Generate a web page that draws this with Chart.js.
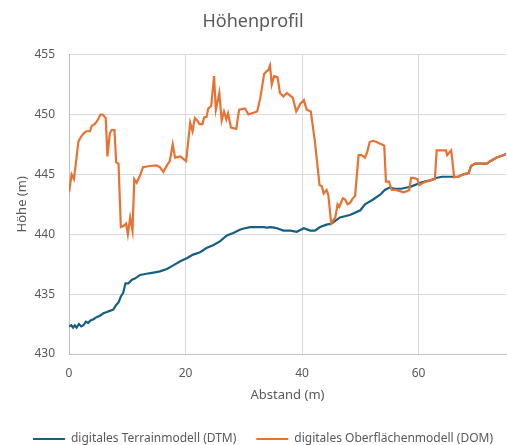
<!DOCTYPE html>
<html>
<head>
<meta charset="utf-8">
<script src="https://cdn.jsdelivr.net/npm/chart.js@4.4.0/dist/chart.umd.min.js"></script>
<style>
  html, body { margin: 0; padding: 0; background: #fff; }
  #wrap { width: 507px; height: 445px; position: relative; }
</style>
</head>
<body>
<div id="wrap"><canvas id="profil"></canvas></div>
<script>
// --- Daten: Abstand (m) und Höhe (m) ---
const dtmAbstand = [0, 0.4, 0.7, 1.0, 1.3, 1.7, 2.1, 2.5, 2.9, 3.3, 3.7, 4.2, 4.8, 5.3, 5.9, 6.5, 7.0, 7.6, 8.1, 8.5,
  8.9, 9.3, 9.7, 10.2, 10.8, 11.3, 12.2, 13.3, 14.5, 15.6, 16.8, 17.9, 19.1, 20.2, 21.3, 22.5, 23.6, 24.8, 25.9, 27.1,
  28.2, 29.4, 30.2, 31.1, 32.5, 33.4, 34.0, 34.6, 35.2, 35.7, 36.8, 38.0, 39.1, 40.3, 41.4, 42.2, 43.1, 44.2, 45.1, 46.5,
  48.2, 50.0, 50.8, 52.2, 53.4, 54.2, 55.0, 56.0, 57.0, 58.0, 58.8, 60.3, 61.0, 62.0, 63.0, 64.0, 65.0, 66.0, 66.8, 67.7,
  68.6, 69.0, 69.7, 70.6, 71.7, 72.3, 73.4, 74.5, 75.0];
const dtmHoehe = [432.3, 432.4, 432.2, 432.4, 432.2, 432.5, 432.3, 432.4, 432.7, 432.6, 432.8, 432.9, 433.1, 433.2, 433.4, 433.5, 433.6, 433.7, 434.1, 434.3,
  434.8, 435.1, 435.9, 435.9, 436.2, 436.3, 436.6, 436.7, 436.8, 436.9, 437.1, 437.4, 437.75, 438.0, 438.3, 438.5, 438.85, 439.1, 439.4, 439.9,
  440.1, 440.4, 440.5, 440.6, 440.6, 440.6, 440.55, 440.6, 440.55, 440.5, 440.3, 440.3, 440.2, 440.5, 440.3, 440.3, 440.6, 440.8, 440.9, 441.4,
  441.6, 442.0, 442.5, 442.9, 443.3, 443.7, 443.9, 443.8, 443.8, 443.9, 444.0, 444.3, 444.4, 444.5, 444.7, 444.8, 444.8, 444.8, 444.8, 445.0,
  445.1, 445.7, 445.9, 445.9, 445.9, 446.1, 446.4, 446.6, 446.7];

const domAbstand = [0, 0.45, 0.85, 1.6, 2.0, 2.5, 3.0, 3.6, 3.9, 4.4, 4.75, 5.0, 5.4, 5.8, 6.3, 6.6, 7.0, 7.3, 7.8, 8.1,
  8.5, 8.9, 9.4, 9.8, 10.1, 10.5, 10.9, 11.2, 11.6, 12.1, 12.7, 13.9, 15.0, 15.6, 16.2, 16.8, 17.3, 17.8, 18.2, 19.1,
  20.1, 20.8, 21.2, 21.6, 22.0, 22.4, 22.9, 23.2, 23.6, 23.9, 24.4, 24.9, 25.2, 25.8, 26.2, 26.6, 27.0, 27.3, 27.8, 28.7,
  29.2, 30.2, 30.8, 31.4, 32.3, 32.8, 33.5, 33.9, 34.2, 34.5, 34.8, 35.2, 35.8, 36.2, 36.8, 37.4, 37.9, 38.4, 39.0, 39.7,
  40.3, 40.8, 41.5, 42.2, 43.0, 43.4, 43.7, 44.2, 44.5, 45.0, 45.7, 46.1, 46.4, 47.0, 47.4, 47.8, 48.2, 48.7, 49.1, 49.7,
  50.2, 50.8, 51.2, 51.6, 52.2, 52.8, 53.7, 54.1, 54.4, 54.9, 55.4, 56.0, 56.8, 57.4, 58.0, 58.4, 58.7, 59.1, 59.8, 60.1,
  60.8, 62.0, 62.8, 63.1, 64.0, 64.7, 64.9, 65.6, 66.1, 66.8, 67.7, 68.6, 69.0, 69.7, 70.6, 71.7, 72.3, 73.4, 74.5, 75.0];
const domHoehe = [443.5, 445.0, 444.6, 447.7, 448.1, 448.4, 448.6, 448.6, 449.05, 449.2, 449.4, 449.6, 450.0, 450.0, 449.7, 446.5, 448.4, 448.7, 448.7, 446.0,
  445.9, 440.6, 440.7, 440.9, 440.0, 441.4, 440.3, 444.6, 444.3, 444.8, 445.6, 445.7, 445.75, 445.6, 445.2, 445.75, 446.1, 447.5, 446.4, 446.5,
  446.1, 449.3, 448.6, 449.7, 449.5, 449.2, 449.2, 449.75, 449.8, 450.5, 450.7, 453.2, 450.4, 451.8, 449.5, 450.25, 449.6, 450.1, 448.9, 448.8,
  450.4, 450.5, 450.0, 450.1, 450.25, 451.3, 453.4, 453.6, 453.7, 454.1, 452.5, 453.2, 453.1, 451.8, 451.5, 451.8, 451.6, 451.4, 450.25, 450.9,
  451.2, 450.4, 450.25, 447.75, 444.1, 444.0, 443.4, 443.7, 443.3, 440.9, 441.4, 442.5, 442.3, 443.0, 442.9, 442.5, 442.6, 443.0, 443.2, 446.6,
  446.6, 446.4, 446.9, 447.7, 447.8, 447.7, 447.5, 447.4, 444.4, 444.4, 443.7, 443.7, 443.6, 443.5, 443.6, 443.7, 444.7, 444.7, 444.6, 444.1,
  444.3, 444.5, 444.6, 447.0, 447.0, 447.0, 446.6, 447.0, 444.75, 444.8, 445.0, 445.1, 445.7, 445.9, 445.9, 445.9, 446.1, 446.4, 446.6, 446.7];

const xTicks = [0, 20, 40, 60];

const grau = "#595959";
const gitter = "#d9d9d9";
const schrift = "'Noto Sans', 'Open Sans', sans-serif";

const punkte = (xs, ys) => xs.map((x, i) => ({ x, y: ys[i] }));

// Legende etwas nach rechts unten schieben (wie im Original)
const legendeVerschieben = {
  id: "legendeVerschieben",
  afterLayout(chart) {
    const lg = chart.legend;
    if (!lg) return;
    lg.top += 10; lg.bottom += 10;
    lg.left += 10; lg.right += 10;
  }
};

new Chart(document.getElementById("profil"), {
  type: "line",
  data: {
    datasets: [
      // DOM liegt im Original über dem DTM -> order
      { label: "digitales Terrainmodell (DTM)", data: punkte(dtmAbstand, dtmHoehe), order: 1,
        borderColor: "#156082", backgroundColor: "#156082", borderWidth: 2.2, pointRadius: 0, tension: 0 },
      { label: "digitales Oberflächenmodell (DOM)", data: punkte(domAbstand, domHoehe), order: 0,
        borderColor: "#E97132", backgroundColor: "#E97132", borderWidth: 2.2, pointRadius: 0, tension: 0 }
    ]
  },
  options: {
    responsive: true,
    maintainAspectRatio: false,
    animation: false,
    layout: { padding: { left: 0, right: 1, top: 0, bottom: 0 } },
    plugins: {
      title: {
        display: true, text: "Höhenprofil", color: grau,
        font: { family: schrift, size: 18, weight: "normal" },
        padding: { top: 11, bottom: 22 }
      },
      legend: {
        position: "bottom",
        labels: {
          color: grau, font: { family: schrift, size: 12 },
          usePointStyle: true, pointStyle: "line", pointStyleWidth: 32, boxHeight: 3, padding: 20,
          sort: (a, b) => a.datasetIndex - b.datasetIndex
        }
      },
      tooltip: { enabled: false }
    },
    scales: {
      x: {
        type: "linear", min: 0, max: 75,
        afterBuildTicks: axis => { axis.ticks = xTicks.map(v => ({ value: v })); },
        afterFit: axis => { axis.height = 49; },
        grid: { color: gitter, drawTicks: false },
        border: { color: "#bfbfbf" },
        ticks: { color: grau, font: { family: schrift, size: 12 }, padding: 12 },
        title: { display: true, text: "Abstand (m)", color: grau, font: { family: schrift, size: 13 }, padding: { top: 4, bottom: 0 } }
      },
      y: {
        min: 430, max: 455,
        afterFit: axis => { axis.width = 69; },
        grid: { color: gitter, drawTicks: false },
        border: { color: "#bfbfbf" },
        ticks: { stepSize: 5, color: grau, font: { family: schrift, size: 12 }, padding: 14 },
        title: { display: true, text: "Höhe (m)", color: grau, font: { family: schrift, size: 13 }, padding: { top: 14, bottom: 0 } }
      }
    }
  },
  plugins: [legendeVerschieben]
});
</script>
</body>
</html>
